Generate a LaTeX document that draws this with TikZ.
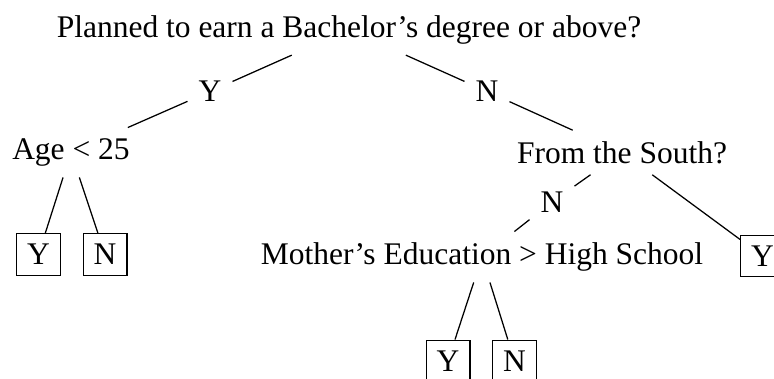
\documentclass[tikz,border=0pt]{standalone}
\usepackage{fontspec}
\setmainfont{Liberation Serif}
\usetikzlibrary{positioning}

\begin{document}
\begin{tikzpicture}[
    x=0.3175pt, y=-0.3175pt,
    quest/.style={rectangle, align=center},
    ans/.style  ={rectangle},
    leaf/.style ={rectangle, draw},
]
\useasboundingbox (0,0) rectangle (774,379);
\node[quest] (root)  at (349,29.7) {Planned to earn a Bachelor's degree or above?};
\node[ans]   (yes1)  at (210,91.5) {Y};
\node[ans]   (no1)   at (487,91.5) {N};
\node[quest] (age)   at (71,152.5) {Age < 25};
\node[quest] (south) at (622,152.5) {From the South?};
\node[leaf]  (ageY)  at (38.5,254.5) {Y};
\node[leaf]  (ageN)  at (105,254.5) {N};
\node[ans]   (no2)   at (552,202) {N};
\node[quest] (mom)   at (482,257) {Mother's Education > High School};
\node[leaf]  (southY) at (762.5,256) {Y};
\node[leaf]  (momY)  at (448,361) {Y};
\node[leaf]  (momN)  at (514.5,361) {N};
\draw (root)--(yes1);
\draw (yes1)--(age);
\draw (root)--(no1);
\draw (no1)--(south);
\draw (age)--(ageY);
\draw (age)--(ageN);
\draw (south)--(no2);
\draw (no2)--(mom);
\draw (south)--(southY);
\draw (mom)--(momY);
\draw (mom)--(momN);
\end{tikzpicture}
\end{document}
